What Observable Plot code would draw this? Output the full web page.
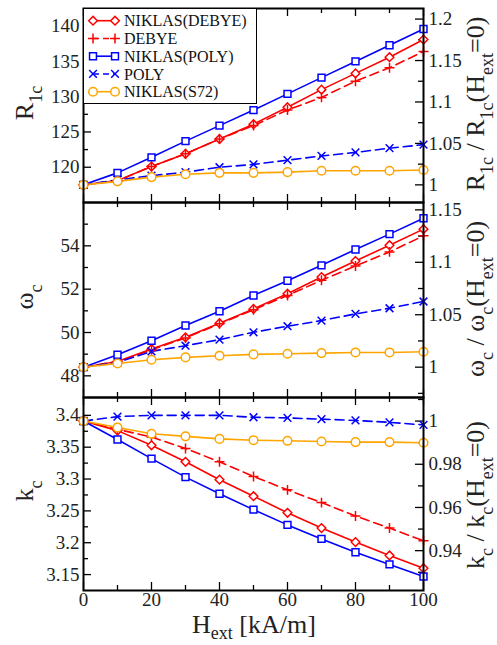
<!DOCTYPE html>
<html>
<head>
<meta charset="utf-8">
<script src="https://cdn.jsdelivr.net/npm/d3@7"></script>
<script src="https://cdn.jsdelivr.net/npm/@observablehq/plot@0.6"></script>
<style>
  body { margin: 0; background: #fff; }
  #fig { position: relative; width: 497px; height: 645px; overflow: hidden; background: #fff;
         font-family: "Liberation Serif", "Times New Roman", serif; color: #111; }
  #fig > svg.plotsvg { position: absolute; left: 0; top: 0; background: transparent; overflow: visible; }
  .ttl { position: absolute; transform: translate(-50%, -50%) rotate(-90deg); font-size: 26px;
         line-height: 1; white-space: nowrap; color: #222; }
  .ttl sub { font-size: 18px; vertical-align: baseline; position: relative; top: 9px; }
  .xt sub { font-size: 18px; vertical-align: baseline; position: relative; top: 6px; }
  .xt { position: absolute; transform: translateX(-50%); font-size: 26px; line-height: 0.6; white-space: nowrap; color: #222; }
  #fig > svg#legend { position: absolute; left: 83px; top: 8px; }
</style>
</head>
<body>
<div id="fig"></div>
<script>
// ---------- data ----------
const hext = [0, 10, 20, 30, 40, 50, 60, 70, 80, 90, 100];

const seriesNames   = ["NIKLAS(DEBYE)", "DEBYE", "NIKLAS(POLY)", "POLY", "NIKLAS(S72)"];
const seriesColors  = ["#ff0000", "#ff0000", "#0000ff", "#0000ff", "#ffa500"];
const seriesDash    = [null, "9,5", null, "9,5", null];
const seriesSymbols = ["diamond2", "plus", "square2", "times", "circle"];

// R_1c
const r1cNiklasDebye = [117.5, 118.1, 120.1, 121.9, 124.0, 126.1, 128.5, 131.0, 133.3, 135.6, 138.1];
const r1cDebye       = [117.5, 118.1, 120.1, 121.9, 124.0, 125.9, 128.1, 129.9, 132.2, 134.1, 136.4];
const r1cNiklasPoly  = [117.5, 119.2, 121.4, 123.7, 125.9, 128.1, 130.4, 132.7, 135.0, 137.3, 139.6];
const r1cPoly        = [117.5, 118.2, 118.8, 119.3, 120.0, 120.4, 121.0, 121.6, 122.1, 122.7, 123.2];
const r1cNiklasS72   = [117.5, 118.0, 118.6, 119.0, 119.2, 119.2, 119.3, 119.5, 119.5, 119.5, 119.6];

// omega_c
const wcNiklasDebye = [48.4, 48.66, 49.24, 49.78, 50.43, 51.09, 51.79, 52.56, 53.30, 54.03, 54.77];
const wcDebye       = [48.4, 48.66, 49.20, 49.75, 50.40, 51.05, 51.71, 52.41, 53.07, 53.72, 54.46];
const wcNiklasPoly  = [48.4, 48.97, 49.62, 50.32, 50.98, 51.71, 52.39, 53.10, 53.83, 54.54, 55.27];
const wcPoly        = [48.4, 48.62, 49.13, 49.39, 49.67, 50.01, 50.29, 50.55, 50.86, 51.12, 51.43];
const wcNiklasS72   = [48.4, 48.57, 48.74, 48.85, 48.93, 48.99, 49.02, 49.05, 49.08, 49.08, 49.11];

// k_c
const kcNiklasDebye = [3.391, 3.376, 3.353, 3.327, 3.299, 3.273, 3.247, 3.223, 3.201, 3.180, 3.160];
const kcDebye       = [3.391, 3.378, 3.366, 3.348, 3.327, 3.304, 3.283, 3.263, 3.242, 3.223, 3.203];
const kcNiklasPoly  = [3.391, 3.362, 3.332, 3.303, 3.277, 3.252, 3.228, 3.206, 3.185, 3.166, 3.147];
const kcPoly        = [3.391, 3.398, 3.400, 3.400, 3.400, 3.397, 3.396, 3.394, 3.392, 3.389, 3.385];
const kcNiklasS72   = [3.391, 3.381, 3.371, 3.367, 3.363, 3.361, 3.360, 3.359, 3.358, 3.358, 3.357];

// ticks
const xTickLabels = [0, 20, 40, 60, 80, 100];
const xMinorTicks = [10, 30, 50, 70, 90];

const r1cTicks      = [120, 125, 130, 135, 140];
const r1cMinor      = [117.5, 122.5, 127.5, 132.5, 137.5];
const r1cRatioTicks = [1, 1.05, 1.1, 1.15, 1.2];
const r1cRatioMinor = [1.025, 1.075, 1.125, 1.175];

const wcTicks       = [48, 50, 52, 54];
const wcMinor       = [49, 51, 53, 55];
const wcRatioTicks  = [1, 1.05, 1.1, 1.15];
const wcRatioMinor  = [0.975, 1.025, 1.075, 1.125];

const kcTicks       = [3.15, 3.2, 3.25, 3.3, 3.35, 3.4];
const kcMinor       = [3.175, 3.225, 3.275, 3.325, 3.375];
const kcRatioTicks  = [0.94, 0.96, 0.98, 1];
const kcRatioMinor  = [0.93, 0.95, 0.97, 0.99, 1.01];

// ---------- layout ----------
const W = 497, H = 645, ML = 83, MR = 74;
const plotW = W - ML - MR;
const symbolR = {diamond2: 3.9, plus: 3.3, square2: 4.4, times: 3.6, circle: 4.3};

const panels = [
  {top: 8, bottom: 202, domain: [115, 142.5],
   series: [r1cNiklasDebye, r1cDebye, r1cNiklasPoly, r1cPoly, r1cNiklasS72],
   major: r1cTicks, minor: r1cMinor, rMajor: r1cRatioTicks, rMinor: r1cRatioMinor, xAxis: false},
  {top: 202, bottom: 397, domain: [47, 56],
   series: [wcNiklasDebye, wcDebye, wcNiklasPoly, wcPoly, wcNiklasS72],
   major: wcTicks, minor: wcMinor, rMajor: wcRatioTicks, rMinor: wcRatioMinor, xAxis: false},
  {top: 397, bottom: 590, domain: [3.125, 3.428],
   series: [kcNiklasDebye, kcDebye, kcNiklasPoly, kcPoly, kcNiklasS72],
   major: kcTicks, minor: kcMinor, rMajor: kcRatioTicks, rMinor: kcRatioMinor, xAxis: true}
];

const fig = document.getElementById("fig");
const fmtNum = d => String(+d.toFixed(3));

for (const p of panels) {
  const plotH = p.bottom - p.top;
  const norm = p.series[0][0];
  const marks = [];
  // inward ticks
  marks.push(Plot.ruleY(p.major, {y: d => d, insetRight: plotW - 8, stroke: "#000", strokeWidth: 1.3}));
  marks.push(Plot.ruleY(p.minor, {y: d => d, insetRight: plotW - 5, stroke: "#000", strokeWidth: 1.3}));
  marks.push(Plot.ruleY(p.rMajor.map(r => r * norm), {y: d => d, insetLeft: plotW - 8, stroke: "#000", strokeWidth: 1.3}));
  marks.push(Plot.ruleY(p.rMinor.map(r => r * norm), {y: d => d, insetLeft: plotW - 5, stroke: "#000", strokeWidth: 1.3}));
  marks.push(Plot.ruleX(xTickLabels, {x: d => d, insetBottom: plotH - 8, stroke: "#000", strokeWidth: 1.3}));
  marks.push(Plot.ruleX(xMinorTicks, {x: d => d, insetBottom: plotH - 5, stroke: "#000", strokeWidth: 1.3}));
  marks.push(Plot.ruleX(xTickLabels, {x: d => d, insetTop: plotH - 8, stroke: "#000", strokeWidth: 1.3}));
  marks.push(Plot.ruleX(xMinorTicks, {x: d => d, insetTop: plotH - 5, stroke: "#000", strokeWidth: 1.3}));
  // axes labels
  marks.push(Plot.axisY(p.major, {anchor: "left", tickSize: 0, tickPadding: 4, label: null, tickFormat: fmtNum}));
  marks.push(Plot.axisY(p.rMajor.map(r => r * norm), {anchor: "right", tickSize: 0, tickPadding: 5, label: null,
    tickFormat: d => fmtNum(d / norm)}));
  if (p.xAxis) marks.push(Plot.axisX(xTickLabels, {anchor: "bottom", tickSize: 0, tickPadding: 2, label: null}));
  // data
  p.series.forEach((vals, si) => {
    const rows = hext.map((h, i) => ({h, v: vals[i]}));
    marks.push(Plot.line(rows, {x: "h", y: "v", stroke: seriesColors[si], strokeWidth: 1.6,
      strokeDasharray: seriesDash[si] || undefined}));
  });
  p.series.forEach((vals, si) => {
    const rows = hext.map((h, i) => ({h, v: vals[i]}));
    const sym = seriesSymbols[si];
    const open = sym === "plus" || sym === "times";
    marks.push(Plot.dot(rows, {x: "h", y: "v", symbol: () => sym, r: symbolR[sym], stroke: seriesColors[si],
      strokeWidth: 1.5, fill: open ? "none" : "white"}));
  });
  marks.push(Plot.frame({stroke: "#000", strokeWidth: 2}));

  const chart = Plot.plot({
    width: W, height: H,
    marginLeft: ML, marginRight: MR, marginTop: p.top, marginBottom: H - p.bottom,
    x: {domain: [0, 100], axis: null},
    y: {domain: p.domain, axis: null},
    symbol: {type: "identity"},
    style: {fontFamily: "Liberation Serif, Times New Roman, serif", fontSize: "19px", color: "#222",
            background: "transparent", overflow: "visible"},
    marks
  });
  chart.classList.add("plotsvg");
  fig.appendChild(chart);
}

// ---------- axis titles ----------
const titles = [
  {html: "R<sub>1c</sub>", x: 25, y: 103},
  {html: "ω<sub>c</sub>", x: 25, y: 297},
  {html: "k<sub>c</sub>", x: 25, y: 491},
  {html: "R<sub>1c</sub> / R<sub>1c</sub>(H<sub>ext</sub>=0)", x: 476, y: 104},
  {html: "ω<sub>c</sub> / ω<sub>c</sub>(H<sub>ext</sub>=0)", x: 476, y: 299},
  {html: "k<sub>c</sub> / k<sub>c</sub>(H<sub>ext</sub>=0)", x: 476, y: 495}
];
for (const t of titles) {
  const d = document.createElement("div");
  d.className = "ttl";
  d.innerHTML = t.html;
  d.style.left = t.x + "px";
  d.style.top = t.y + "px";
  fig.appendChild(d);
}
const xt = document.createElement("div");
xt.className = "xt";
xt.innerHTML = "H<sub>ext</sub> [kA/m]";
xt.style.left = "254px";
xt.style.top = "616.8px";
fig.appendChild(xt);

// ---------- legend ----------
const legW = 174, legH = 96;
const leg = d3.select(fig).append("svg").attr("id", "legend").attr("width", legW).attr("height", legH);
leg.append("rect").attr("x", 0.5).attr("y", 0.5).attr("width", legW - 1).attr("height", legH - 1)
  .attr("fill", "white").attr("stroke", "#000").attr("stroke-width", 1);
const symMap = {diamond2: d3.symbolDiamond2, plus: d3.symbolPlus, square2: d3.symbolSquare2,
                times: d3.symbolTimes, circle: d3.symbolCircle};
seriesNames.forEach((name, i) => {
  const cy = 12.7 + i * 17.75;
  const g = leg.append("g");
  g.append("line").attr("x1", 10).attr("x2", 32).attr("y1", cy).attr("y2", cy)
    .attr("stroke", seriesColors[i]).attr("stroke-width", 1.6)
    .attr("stroke-dasharray", seriesDash[i] ? "6,4" : null);
  const sym = seriesSymbols[i];
  const open = sym === "plus" || sym === "times";
  const path = d3.symbol(symMap[sym], Math.PI * symbolR[sym] * symbolR[sym])();
  [10, 32].forEach(cx => {
    g.append("path").attr("d", path).attr("transform", `translate(${cx},${cy})`)
      .attr("stroke", seriesColors[i]).attr("stroke-width", 1.5).attr("fill", open ? "none" : "white");
  });
  g.append("text").attr("x", 41).attr("y", cy).attr("dy", "0.35em")
    .attr("font-family", "Liberation Serif, Times New Roman, serif").attr("font-size", 16)
    .attr("fill", "#111").text(name);
});
// re-draw the top panel frame edges over the legend
leg.append("line").attr("x1", 0).attr("x2", legW).attr("y1", 0).attr("y2", 0).attr("stroke", "#000").attr("stroke-width", 2);
leg.append("line").attr("x1", 0).attr("x2", 0).attr("y1", 0).attr("y2", legH).attr("stroke", "#000").attr("stroke-width", 2);
</script>
</body>
</html>
